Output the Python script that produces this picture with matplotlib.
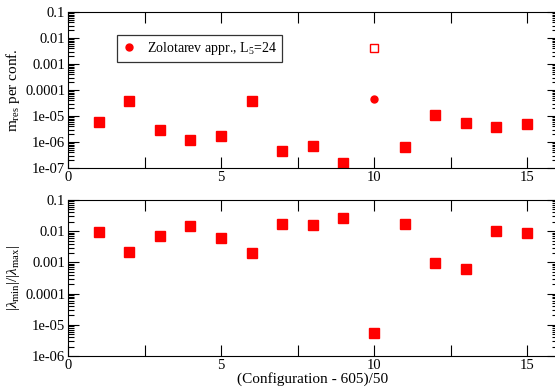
import matplotlib
matplotlib.use("Agg")
import matplotlib.pyplot as plt
import numpy as np
from matplotlib.ticker import LogLocator, NullFormatter, FixedLocator, FixedFormatter

plt.rcParams['font.family'] = ['Liberation Serif', 'DejaVu Serif']
plt.rcParams['mathtext.fontset'] = 'custom'
plt.rcParams['mathtext.rm'] = 'Liberation Serif'
plt.rcParams['mathtext.it'] = 'Liberation Serif:italic'

config = [1, 2, 3, 4, 5, 6, 7, 8, 9, 10, 11, 12, 13, 14, 15]
mres_cfg = [1, 2, 3, 4, 5, 6, 7, 8, 9, 11, 12, 13, 14, 15]
mres = [6.0e-6, 3.7e-5, 3.0e-6, 1.16e-6, 1.7e-6, 3.7e-5, 4.7e-7, 7.2e-7, 1.56e-7,
        6.6e-7, 1.07e-5, 5.5e-6, 3.7e-6, 5.0e-6]
zolo_x = [10]
zolo_y = [4.5e-5]
zolo_err = [0.5e-5]
open_x = [10]
open_y = [4.1e-3]
ratio = [9.2e-3, 2.1e-3, 7.0e-3, 1.5e-2, 6.2e-3, 2.05e-3, 1.66e-2, 1.55e-2, 2.6e-2,
         5.4e-6, 1.7e-2, 9.8e-4, 6.1e-4, 9.9e-3, 8.7e-3]

top_ticks = [1e-7, 1e-6, 1e-5, 1e-4, 1e-3, 1e-2, 1e-1]
top_labels = ['1e-07', '1e-06', '1e-05', '0.0001', '0.001', '0.01', '0.1']
bot_ticks = [1e-6, 1e-5, 1e-4, 1e-3, 1e-2, 1e-1]
bot_labels = ['1e-06', '1e-05', '0.0001', '0.001', '0.01', '0.1']

fig = plt.figure(figsize=(5.55, 3.88), dpi=100)
W, H = 555.0, 388.0
left = 68 / W
width = 489.6 / W
ax1 = fig.add_axes([left, 1 - 168 / H, width, 156 / H])
ax2 = fig.add_axes([left, 1 - 356 / H, width, 156 / H])

red = '#ff0000'
ax1.plot(mres_cfg, mres, 's', color=red, markersize=6.5, linestyle='none')
ax1.plot(open_x, open_y, 's', markerfacecolor='none', markeredgecolor=red,
         markersize=5.5, markeredgewidth=1.0, linestyle='none')
ax1.errorbar(zolo_x, zolo_y, yerr=zolo_err, fmt='none', ecolor=red, elinewidth=1, capsize=0)
ax1.plot(zolo_x, zolo_y, 'o', color=red, markersize=5, linestyle='none',
         label=r'Zolotarev appr., L$_5$=24')

ax2.plot(config, ratio, 's', color=red, markersize=6.5, linestyle='none')

for ax, ticks, labels, ylim in [(ax1, top_ticks, top_labels, (1e-7, 1e-1)),
                                (ax2, bot_ticks, bot_labels, (1e-6, 1e-1))]:
    ax.set_yscale('log')
    ax.set_ylim(*ylim)
    ax.set_xlim(0, 16)
    ax.xaxis.set_major_locator(FixedLocator([0, 5, 10, 15]))
    ax.xaxis.set_minor_locator(FixedLocator([2.5, 7.5, 12.5]))
    ax.yaxis.set_major_locator(FixedLocator(ticks))
    ax.yaxis.set_major_formatter(FixedFormatter(labels))
    ax.yaxis.set_minor_locator(LogLocator(base=10, subs=np.arange(2, 10), numticks=20))
    ax.yaxis.set_minor_formatter(NullFormatter())
    ax.tick_params(which='both', direction='in', top=True, right=True, labelsize=10.5,
                   width=0.8, pad=2)
    ax.tick_params(which='major', length=8)
    ax.tick_params(which='minor', length=4)
    ax.tick_params(axis='x', which='minor', length=8)
    for s in ax.spines.values():
        s.set_linewidth(0.8)

ax1.set_ylabel(r'm$_{\rm res}$ per conf.', fontsize=11, labelpad=2)
ax2.set_ylabel(r'|$\lambda_{\rm min}$|/|$\lambda_{\rm max}$|', fontsize=11, labelpad=2)
ax2.set_xlabel('(Configuration - 605)/50', fontsize=11, labelpad=0)

leg = ax1.legend(loc='upper left', bbox_to_anchor=((117 - 68) / 489.6, (168 - 35) / 156),
                 fontsize=10, frameon=True, fancybox=False, edgecolor='black',
                 handlelength=1.0, handletextpad=0.8, borderpad=0.35, borderaxespad=0)
leg.get_frame().set_linewidth(0.9)

fig.savefig('out.png', dpi=100)
